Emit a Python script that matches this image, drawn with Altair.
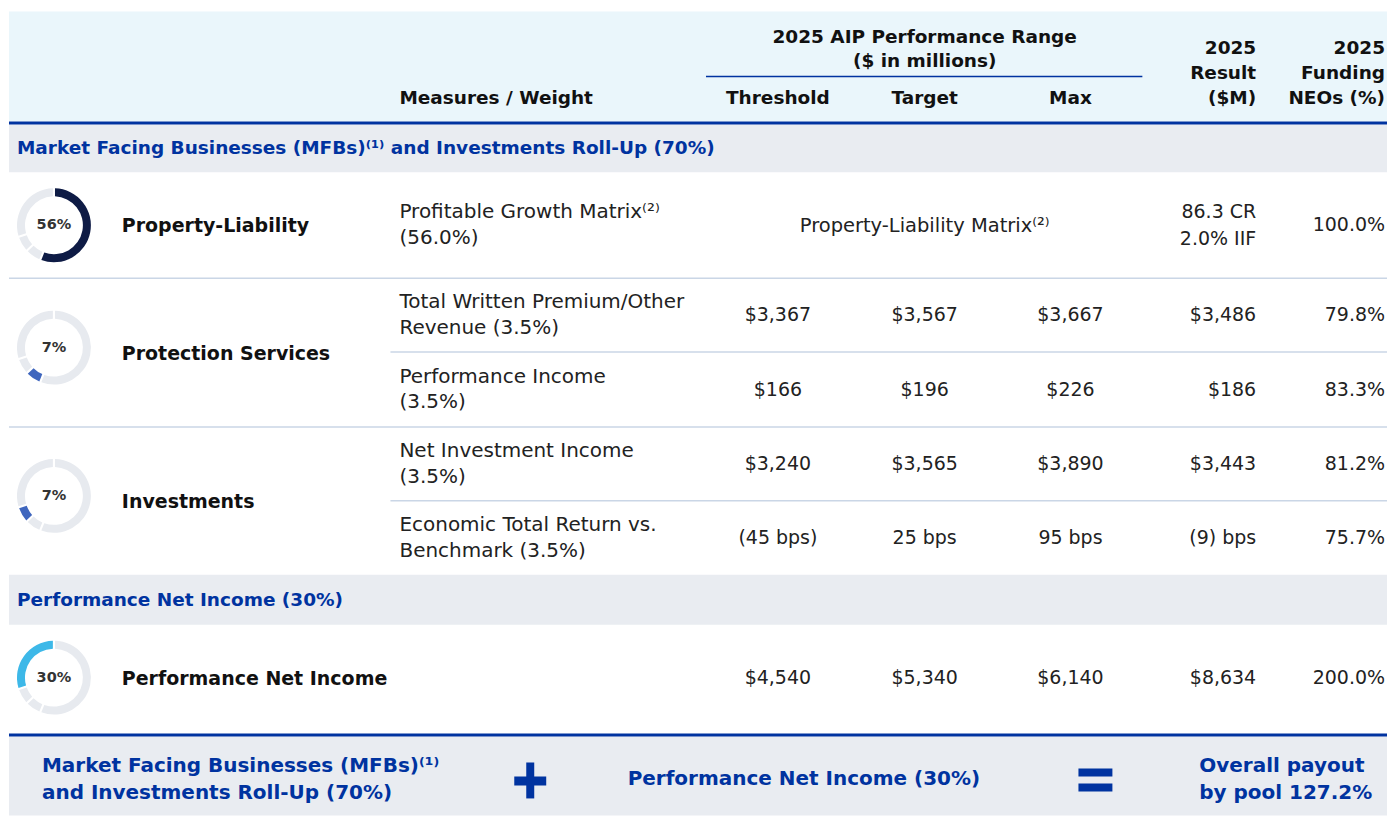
import math
import altair as alt
import pandas as pd

# ---------------- data ----------------
categories = ["Property-Liability", "Protection Services", "Investments", "Performance Net Income"]
category_weights = [56, 7, 7, 30]
category_labels = ["56%", "7%", "7%", "30%"]
section_titles = ["Market Facing Businesses (MFBs)⁽¹⁾ and Investments Roll-Up (70%)",
                  "Performance Net Income (30%)"]
measures = ["Profitable Growth Matrix⁽²⁾\n(56.0%)",
            "Total Written Premium/Other\nRevenue (3.5%)",
            "Performance Income\n(3.5%)",
            "Net Investment Income\n(3.5%)",
            "Economic Total Return vs.\nBenchmark (3.5%)",
            ""]
threshold = ["", "$3,367", "$166", "$3,240", "(45 bps)", "$4,540"]
target = ["", "$3,567", "$196", "$3,565", "25 bps", "$5,340"]
maximum = ["", "$3,667", "$226", "$3,890", "95 bps", "$6,140"]
matrix_note = "Property-Liability Matrix⁽²⁾"
result = ["86.3 CR\n2.0% IIF", "$3,486", "$186", "$3,443", "(9) bps", "$8,634"]
funding = ["100.0%", "79.8%", "83.3%", "81.2%", "75.7%", "200.0%"]
header_range = "2025 AIP Performance Range\n($ in millions)"
header_cols = ["Measures / Weight", "Threshold", "Target", "Max"]
header_result = "2025\nResult\n($M)"
header_funding = "2025\nFunding\nNEOs (%)"
footer_left = "Market Facing Businesses (MFBs)⁽¹⁾\nand Investments Roll-Up (70%)"
footer_mid = "Performance Net Income (30%)"
footer_right = "Overall payout\nby pool 127.2%"

# ---------------- layout (pixels of the page) ----------------
X0, X1, Y0, Y1 = 8, 1388, 8, 816
HEAD = (11, 121)
HEAD_LINE = (121, 124)
SECT = [(124, 172), (575, 625)]
MEAS_EDGES = [(172, 278), (278, 352), (352, 427), (427, 501), (501, 575), (625, 731)]
CAT_EDGES = [(172, 278), (278, 427), (427, 575), (625, 731)]
DONUT_DY = [0, -5, -5, 0]
FULL_SEPS = [278, 427]
SUB_SEPS = [352, 501]
FOOT_LINE = (734, 737)
FOOT = (737, 816)
DONUT_X, CAT_X, MEAS_X = 53, 121, 399
COLS = [778, 925, 1071]
RES_X, FUND_X = 1257, 1386
FONT = "DejaVu Sans"

BLUE = "#0033A0"
TXT = "#222222"

XS = alt.Scale(domain=[X0, X1], nice=False, zero=False)
YS = alt.Scale(domain=[Y0, Y1], nice=False, zero=False, reverse=True)


def rects(boxes, color):
    df = pd.DataFrame(boxes, columns=["x", "x2", "y", "y2"])
    return alt.Chart(df).mark_rect(color=color).encode(
        x=alt.X("x:Q", scale=XS, axis=None), x2="x2:Q",
        y=alt.Y("y:Q", scale=YS, axis=None), y2="y2:Q")


def rules(segs, color, width):
    df = pd.DataFrame(segs, columns=["x", "x2", "y"])
    return alt.Chart(df).mark_rule(color=color, strokeWidth=width).encode(
        x=alt.X("x:Q", scale=XS, axis=None), x2="x2:Q",
        y=alt.Y("y:Q", scale=YS, axis=None))


def texts(rows, lineHeight=25, **style):
    # rows: (x, centre y of the whole block, text); first line placed so the block is centred
    fixed = []
    for x, y, t in rows:
        n = t.count("\n") + 1
        fixed.append((x, y - (n - 1) * lineHeight / 2, t))
    df = pd.DataFrame(fixed, columns=["x", "y", "t"])
    base = dict(font=FONT, baseline="middle", lineBreak="\n", lineHeight=lineHeight)
    base.update(style)
    return alt.Chart(df).mark_text(**base).encode(
        x=alt.X("x:Q", scale=XS, axis=None),
        y=alt.Y("y:Q", scale=YS, axis=None),
        text="t:N")


def mid(e):
    return (e[0] + e[1]) / 2


layers = []
# bands
layers.append(rects([(X0, X1, HEAD[0], HEAD[1])], "#EAF6FB"))
layers.append(rects([(X0, X1, s[0], s[1]) for s in SECT] + [(X0, X1, FOOT[0], FOOT[1])], "#E9ECF1"))
layers.append(rects([(X0, X1, HEAD_LINE[0], HEAD_LINE[1]), (X0, X1, FOOT_LINE[0], FOOT_LINE[1])], BLUE))
# separators
layers.append(rules([(X0, X1, y) for y in FULL_SEPS] + [(390, X1, y) for y in SUB_SEPS], "#CAD6E6", 1.5))
layers.append(rules([(706, 1143, 76)], BLUE, 1.5))
# footer symbols (plus / equals)
layers.append(rects([(514, 546, 777, 786), (526, 534, 763, 799),
                     (1079, 1113, 769, 777), (1079, 1113, 784, 792)], BLUE))

# donuts
starts = [sum(category_weights[:j]) for j in range(len(category_weights))]
drows = []
for i, c in enumerate(categories):
    for j, w in enumerate(category_weights):
        drows.append(dict(x=DONUT_X, y=mid(CAT_EDGES[i]) + DONUT_DY[i],
                          start=starts[j], end=starts[j] + w,
                          key=categories[j] if j == i else "other"))
ddf = pd.DataFrame(drows)
donut = alt.Chart(ddf).mark_arc(innerRadius=29, outerRadius=37, padAngle=0.045).encode(
    x=alt.X("x:Q", scale=XS, axis=None),
    y=alt.Y("y:Q", scale=YS, axis=None),
    theta=alt.Theta("start:Q", scale=alt.Scale(domain=[0, 100], range=[0, 2 * math.pi]), stack=None),
    theta2="end:Q",
    color=alt.Color("key:N", legend=None,
                    scale=alt.Scale(domain=categories + ["other"],
                                    range=["#0E1B45", "#3F66BE", "#3F66BE", "#3DB8E8", "#E7EAEF"])))
layers.append(donut)
layers.append(texts([(DONUT_X, mid(CAT_EDGES[i]) + DONUT_DY[i], category_labels[i]) for i in range(4)],
                    fontSize=14.5, fontWeight="bold", color="#333333", align="center"))

# header
layers.append(texts([(925, 48.5, header_range)] + [(x, 98, t) for x, t in zip(COLS, header_cols[1:])],
                    fontSize=18.5, fontWeight="bold", color="#111111", align="center", lineHeight=25))
layers.append(texts([(MEAS_X, 98, header_cols[0])], fontSize=18.5, fontWeight="bold",
                    color="#111111", align="left"))
layers.append(texts([(RES_X, 72.5, header_result), (FUND_X, 72.5, header_funding)],
                    fontSize=18.5, fontWeight="bold", color="#111111", align="right", lineHeight=25.5))

# section titles
layers.append(texts([(16, mid(SECT[k]), section_titles[k]) for k in range(2)],
                    fontSize=18.5, fontWeight="bold", color=BLUE, align="left"))

# category names
layers.append(texts([(CAT_X, mid(CAT_EDGES[i]) + 1, categories[i]) for i in range(4)],
                    fontSize=19, fontWeight="bold", color="#111111", align="left"))

# body
ys = [mid(e) for e in MEAS_EDGES]
layers.append(texts([(MEAS_X, ys[r], measures[r]) for r in range(6)],
                    fontSize=20, color=TXT, align="left", lineHeight=26))
crow = []
for r in range(6):
    for x, vals in zip(COLS, [threshold, target, maximum]):
        crow.append((x, ys[r], vals[r]))
layers.append(texts(crow, fontSize=19, color=TXT, align="center"))
layers.append(texts([(COLS[1], ys[0] + 1, matrix_note)], fontSize=19.5, color=TXT, align="center"))
layers.append(texts([(RES_X, ys[r], result[r]) for r in range(6)] +
                    [(FUND_X, ys[r], funding[r]) for r in range(6)],
                    fontSize=19, color=TXT, align="right", lineHeight=27))

# footer
layers.append(texts([(41, 780.5, footer_left)], fontSize=20, fontWeight="bold", color=BLUE,
                    align="left", lineHeight=27))
layers.append(texts([(804, 780, footer_mid)], fontSize=20, fontWeight="bold", color=BLUE, align="center"))
layers.append(texts([(1200, 780.5, footer_right)], fontSize=20, fontWeight="bold", color=BLUE,
                    align="left", lineHeight=27))

chart = alt.layer(*layers).properties(width=X1 - X0, height=Y1 - Y0, padding=0, background="white") \
    .configure_view(stroke=None)

chart.save("out.html", embed_options={"renderer": "svg", "actions": False})
